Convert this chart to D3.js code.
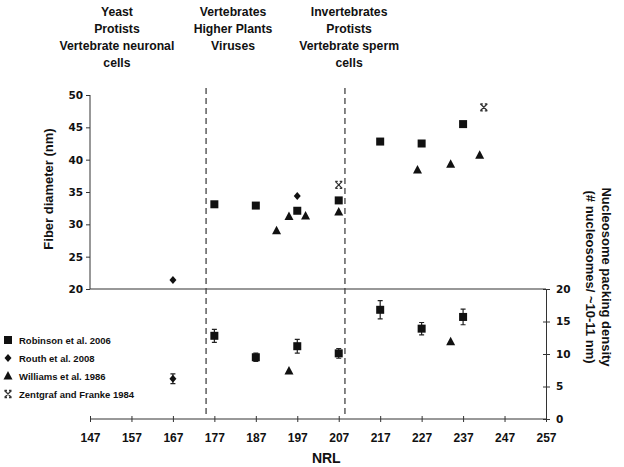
<!DOCTYPE html>
<html>
<head>
<meta charset="utf-8">
<script src="https://cdn.jsdelivr.net/npm/d3@7"></script>
<style>
  body { margin: 0; background: #fff; }
  svg { display: block; }
  text { fill: #111; }
</style>
</head>
<body>
<svg id="chart" width="624" height="467"></svg>
<script>
// ---- Data ----
const groupLabels = [
  ["Yeast", "Protists", "Vertebrate neuronal", "cells"],
  ["Vertebrates", "Higher Plants", "Viruses"],
  ["Invertebrates", "Protists", "Vertebrate sperm", "cells"]
];
const groupCenters = [153.5, 181.5, 209.5]; // NRL positions of group label centres
const dividerNRL = [175, 208.5];

const xTicks = [147, 157, 167, 177, 187, 197, 207, 217, 227, 237, 247, 257];
const diamTicks = [20, 25, 30, 35, 40, 45, 50];
const densTicks = [0, 5, 10, 15, 20];

// Robinson et al. 2006 (squares)
const robinsonNRL = [177, 187, 197, 207, 217, 227, 237];
const robinsonDiam = [33.1, 32.9, 32.1, 33.7, 42.8, 42.5, 45.5];
const robinsonDens = [12.8, 9.5, 11.2, 10.1, 16.8, 13.9, 15.7];
const robinsonDensErr = [1.0, 0.65, 1.05, 0.75, 1.4, 0.95, 1.2];

// Routh et al. 2008 (diamonds)
const routhNRL = [167, 197];
const routhDiam = [21.4, 34.4];
const routhDensNRL = [167];
const routhDens = [6.2];
const routhDensErr = [0.75];

// Williams et al. 1986 (triangles)
const williamsNRL = [192, 195, 199, 207, 226, 234, 241];
const williamsDiam = [29.0, 31.2, 31.3, 31.9, 38.4, 39.3, 40.7];
const williamsDensNRL = [195, 234];
const williamsDens = [7.4, 11.9];

// Zentgraf and Franke 1984 (crosses)
const zentgrafNRL = [207, 242];
const zentgrafDiam = [36.1, 48.1];

const legendItems = ["Robinson et al. 2006", "Routh et al. 2008", "Williams et al. 1986", "Zentgraf and Franke 1984"];
const legendShapes = ["square", "diamond", "triangle", "cross"];

// ---- Layout ----
const svg = d3.select("#chart");
const W = 624, H = 467;
svg.append("rect").attr("width", W).attr("height", H).attr("fill", "#fff");

const x = d3.scaleLinear().domain([147, 257]).range([90, 546]);
const yD = d3.scaleLinear().domain([20, 50]).range([289, 95]);
const yN = d3.scaleLinear().domain([0, 20]).range([419, 289]);

const tickFont = "'DejaVu Sans', Verdana, sans-serif";
const mainFont = "'Liberation Sans', Arial, sans-serif";

// Group labels
groupLabels.forEach((lines, i) => {
  const cx = x(groupCenters[i]);
  const g = svg.append("g").attr("transform", `translate(${cx},0) scale(0.94,1)`);
  const t = g.append("text")
    .attr("x", 0)
    .attr("y", 16)
    .attr("text-anchor", "middle")
    .attr("font-family", mainFont)
    .attr("font-weight", "bold")
    .attr("font-size", 13);
  lines.forEach((l, j) => {
    t.append("tspan").attr("x", 0).attr("dy", j === 0 ? 0 : 17).text(l);
  });
});

// Left axis (fiber diameter)
const leftAxis = svg.append("g")
  .attr("transform", `translate(${x(147)},0)`)
  .call(d3.axisLeft(yD).tickValues(diamTicks).tickSize(4).tickPadding(3));
leftAxis.select(".domain").attr("d", `M-0,${yD(50)}V${yD(20)}`);
leftAxis.selectAll("text").attr("font-family", tickFont).attr("font-weight", "bold").attr("font-size", 10.5).attr("fill", "#111");
leftAxis.selectAll("line, path").attr("stroke", "#333");

// Horizontal divider at 20 nm / 20 density
svg.append("line").attr("x1", x(147)).attr("x2", x(257)).attr("y1", yD(20)).attr("y2", yD(20))
  .attr("stroke", "#333").attr("stroke-width", 1.2);

// Right axis (density)
const rightAxis = svg.append("g")
  .attr("transform", `translate(${x(257)},0)`)
  .call(d3.axisRight(yN).tickValues(densTicks).tickSize(4).tickPadding(6));
rightAxis.selectAll(".tick line").attr("x1", -3).attr("x2", 4);
rightAxis.selectAll("text").attr("font-family", tickFont).attr("font-weight", "bold").attr("font-size", 10.5).attr("fill", "#111");
rightAxis.selectAll("line, path").attr("stroke", "#333");

// Bottom axis
const bottomAxis = svg.append("g")
  .attr("transform", `translate(0,${yN(0)})`)
  .call(d3.axisBottom(x).tickValues(xTicks).tickSize(3).tickPadding(11));
bottomAxis.selectAll(".tick line").attr("y1", -3).attr("y2", 3);
bottomAxis.select(".domain").attr("d", `M${x(147)},0H${x(257)}`);
bottomAxis.selectAll("text").attr("font-family", mainFont).attr("font-weight", "bold").attr("font-size", 12).attr("fill", "#111");
bottomAxis.selectAll("line, path").attr("stroke", "#333");

// Dashed dividers
dividerNRL.forEach(v => {
  svg.append("line").attr("x1", x(v)).attr("x2", x(v)).attr("y1", 88).attr("y2", 415)
    .attr("stroke", "#444").attr("stroke-width", 1.3).attr("stroke-dasharray", "6,4");
});

// Axis titles
svg.append("text").attr("transform", `translate(53,189) rotate(-90)`)
  .attr("text-anchor", "middle").attr("font-family", mainFont).attr("font-weight", "bold").attr("font-size", 13)
  .text("Fiber diameter (nm)");
const rt = svg.append("text").attr("transform", `translate(602,277) rotate(90)`)
  .attr("text-anchor", "middle").attr("font-family", mainFont).attr("font-weight", "bold").attr("font-size", 13);
rt.append("tspan").attr("x", 0).attr("dy", 0).text("Nucleosome packing density");
rt.append("tspan").attr("x", 0).attr("dy", 16).text("(# nucleosomes/ ~10-11 nm)");
svg.append("text").attr("x", x(204)).attr("y", 463).attr("text-anchor", "middle")
  .attr("font-family", mainFont).attr("font-weight", "bold").attr("font-size", 14).text("NRL");

// ---- Marker helpers ----
function drawShape(g, shape, cx, cy) {
  if (shape === "square") {
    g.append("rect").attr("x", cx - 4).attr("y", cy - 4).attr("width", 8).attr("height", 8).attr("fill", "#111");
  } else if (shape === "diamond") {
    g.append("path").attr("d", `M${cx},${cy-4}L${cx+3.5},${cy}L${cx},${cy+4}L${cx-3.5},${cy}Z`).attr("fill", "#111");
  } else if (shape === "triangle") {
    g.append("path").attr("d", `M${cx},${cy-5}L${cx+4.5},${cy+3.5}L${cx-4.5},${cy+3.5}Z`).attr("fill", "#111");
  } else if (shape === "cross") {
    g.append("path").attr("d",
      `M${cx-3.5},${cy-3.5}L${cx+3.5},${cy+3.5}M${cx+3.5},${cy-3.5}L${cx-3.5},${cy+3.5}` +
      `M${cx-3.5},${cy-3.5}H${cx-1}M${cx+1},${cy-3.5}H${cx+3.5}M${cx-3.5},${cy+3.5}H${cx-1}M${cx+1},${cy+3.5}H${cx+3.5}`)
      .attr("stroke", "#333").attr("stroke-width", 1.3).attr("fill", "none");
  }
}
function errBar(g, cx, yScale, v, e) {
  const y1 = yScale(v - e), y2 = yScale(v + e);
  g.append("path").attr("d", `M${cx},${y1}V${y2}M${cx-2.5},${y1}H${cx+2.5}M${cx-2.5},${y2}H${cx+2.5}`)
    .attr("stroke", "#222").attr("stroke-width", 1.2).attr("fill", "none");
}

const marks = svg.append("g");
// Upper panel
robinsonNRL.forEach((n, i) => drawShape(marks, "square", x(n), yD(robinsonDiam[i])));
routhNRL.forEach((n, i) => drawShape(marks, "diamond", x(n), yD(routhDiam[i])));
williamsNRL.forEach((n, i) => drawShape(marks, "triangle", x(n), yD(williamsDiam[i])));
zentgrafNRL.forEach((n, i) => drawShape(marks, "cross", x(n), yD(zentgrafDiam[i])));
// Lower panel
robinsonNRL.forEach((n, i) => {
  errBar(marks, x(n), yN, robinsonDens[i], robinsonDensErr[i]);
  drawShape(marks, "square", x(n), yN(robinsonDens[i]));
});
routhDensNRL.forEach((n, i) => {
  errBar(marks, x(n), yN, routhDens[i], routhDensErr[i]);
  drawShape(marks, "diamond", x(n), yN(routhDens[i]));
});
williamsDensNRL.forEach((n, i) => drawShape(marks, "triangle", x(n), yN(williamsDens[i])));

// Legend
const legend = svg.append("g");
const legendY = [340, 358, 376, 394];
legendItems.forEach((label, i) => {
  drawShape(legend, legendShapes[i], 8, legendY[i]);
  legend.append("text").attr("x", 19).attr("y", legendY[i] + 3.5)
    .attr("font-family", mainFont).attr("font-weight", "bold").attr("font-size", 9.5).text(label);
});
</script>
</body>
</html>
